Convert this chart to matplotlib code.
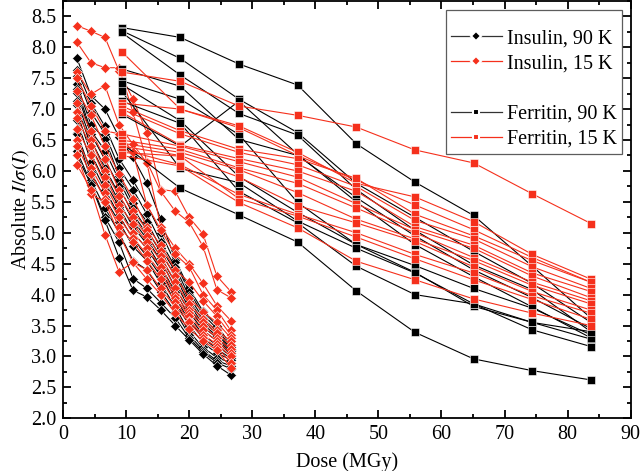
import matplotlib
matplotlib.use("Agg")
import numpy as np
import matplotlib.pyplot as plt
from matplotlib.lines import Line2D
from matplotlib.ticker import MultipleLocator

plt.rcParams["font.family"] = ["Liberation Serif", "DejaVu Serif"]
plt.rcParams["mathtext.fontset"] = "stix"

RED = "#f5301c"
BLACK = "#000000"

# 剂量 (MGy)
INSULIN_DOSE = [2.22, 4.44, 6.66, 8.88, 11.1, 13.3, 15.5, 17.8, 20.0, 22.2, 24.4, 26.6]
FERRITIN_DOSE = [9.3, 18.6, 27.9, 37.2, 46.5, 55.8, 65.1, 74.4, 83.7]

# ===== Insulin, 90 K =====
INSULIN_90K = [
    [7.82, 7.22, 7.00, 6.55, 6.22, 5.80, 5.22, 4.56, 4.10, 3.73, 3.50, 3.19],
    [7.63, 7.10, 6.72, 6.20, 5.85, 5.45, 5.00, 4.52, 4.05, 3.68, 3.45, 3.15],
    [7.53, 6.95, 6.60, 6.05, 5.70, 5.30, 4.85, 4.45, 3.97, 3.62, 3.40, 3.12],
    [7.40, 6.75, 6.52, 5.92, 5.48, 5.18, 4.75, 4.38, 3.90, 3.58, 3.36, 3.10],
    [7.33, 6.65, 6.33, 5.85, 5.40, 5.05, 4.68, 4.30, 3.85, 3.52, 3.33, 3.08],
    [7.26, 6.60, 6.18, 5.75, 5.30, 4.98, 4.60, 4.20, 3.78, 3.48, 3.30, 3.05],
    [7.13, 6.50, 6.05, 5.62, 5.20, 4.90, 4.55, 4.12, 3.72, 3.42, 3.25, 3.03],
    [7.06, 6.40, 5.95, 5.50, 5.10, 4.82, 4.45, 4.05, 3.65, 3.35, 3.18, 3.00],
    [6.95, 6.28, 5.82, 5.42, 5.00, 4.75, 4.40, 3.95, 3.58, 3.30, 3.12, 2.97],
    [6.82, 6.15, 5.70, 5.28, 4.90, 4.62, 4.30, 3.88, 3.50, 3.22, 3.05, 2.95],
    [6.62, 5.98, 5.55, 5.18, 4.78, 4.55, 4.18, 3.80, 3.40, 3.15, 2.98, 2.90],
    [6.59, 5.85, 5.40, 5.00, 4.55, 4.40, 4.05, 3.72, 3.35, 3.10, 2.93, 2.85],
    [6.32, 5.80, 5.25, 4.85, 4.26, 4.10, 3.87, 3.62, 3.30, 3.07, 2.90, 2.80],
    [6.25, 5.78, 5.20, 4.60, 4.07, 3.96, 3.75, 3.50, 3.27, 3.04, 2.85, 2.70],
]

# ===== Insulin, 15 K =====
INSULIN_15K = [
    [8.35, 8.26, 8.16, 7.62, 7.16, 6.62, 5.70, 5.67, 5.25, 4.98, 4.30, 4.05],
    [8.08, 7.75, 7.67, 7.67, 6.95, 6.15, 5.67, 5.35, 5.17, 4.78, 4.08, 3.95],
    [7.60, 7.24, 7.38, 6.75, 6.43, 6.13, 5.10, 4.75, 4.50, 4.18, 3.82, 3.58],
    [7.50, 7.05, 6.65, 6.60, 6.30, 5.45, 5.05, 4.65, 4.45, 4.00, 3.75, 3.42],
    [7.30, 6.90, 6.40, 5.95, 5.55, 5.10, 4.80, 4.40, 4.20, 3.90, 3.65, 3.35],
    [7.10, 6.65, 6.20, 5.70, 5.35, 5.05, 4.70, 4.30, 3.95, 3.72, 3.55, 3.30],
    [6.95, 6.50, 6.00, 5.60, 5.25, 4.95, 4.62, 4.20, 3.85, 3.60, 3.42, 3.25],
    [6.85, 6.40, 5.90, 5.45, 5.15, 4.85, 4.55, 4.10, 3.75, 3.55, 3.38, 3.18],
    [6.68, 6.25, 5.78, 5.35, 5.00, 4.75, 4.45, 4.00, 3.70, 3.50, 3.30, 3.12],
    [6.50, 6.05, 5.65, 5.25, 4.92, 4.65, 4.35, 3.95, 3.65, 3.42, 3.25, 3.05],
    [6.40, 5.95, 5.55, 5.10, 4.85, 4.55, 4.25, 3.88, 3.58, 3.35, 3.20, 3.00],
    [6.25, 5.62, 5.50, 4.98, 4.52, 4.40, 4.10, 3.80, 3.55, 3.30, 3.15, 2.90],
    [6.10, 5.70, 4.97, 4.37, 4.52, 4.25, 4.00, 3.70, 3.45, 3.25, 3.10, 2.82],
]

# ===== Ferritin, 90 K =====
FERRITIN_90K = [
    [8.32, 8.16, 7.73, 7.39, 6.44, 5.82, 5.28, 4.46, 3.62],
    [8.27, 7.82, 7.16, 6.62, 5.80, 5.25, 4.70, 4.18, 3.55],
    [8.24, 7.55, 6.93, 6.58, 5.70, 5.04, 4.48, 4.08, 3.40],
    [7.65, 7.37, 6.51, 6.25, 5.57, 4.95, 4.40, 3.95, 3.45],
    [7.46, 7.16, 6.59, 5.49, 4.81, 4.47, 4.10, 3.78, 3.35],
    [7.40, 6.81, 5.91, 5.33, 4.81, 4.36, 3.81, 3.55, 3.28],
    [7.29, 6.04, 5.81, 5.19, 4.75, 4.35, 3.85, 3.43, 3.16],
    [6.92, 6.40, 7.13, 6.27, 5.50, 4.81, 4.29, 3.80, 3.30],
    [7.13, 6.77, 5.67, 5.16, 4.46, 4.00, 3.85, 3.55, 3.40],
    [6.45, 5.72, 5.29, 4.85, 4.06, 3.39, 2.96, 2.77, 2.62],
]

# ===== Ferritin, 15 K =====
FERRITIN_15K = [
    [7.60, 7.45, 7.05, 6.90, 6.71, 6.34, 6.13, 5.63, 5.15],
    [7.93, 7.00, 6.70, 6.25, 5.85, 5.45, 5.05, 4.60, 4.20],
    [7.10, 7.00, 6.73, 6.30, 5.80, 5.58, 5.18, 4.65, 4.25],
    [7.05, 6.65, 6.35, 6.20, 5.88, 5.30, 4.95, 4.55, 4.20],
    [7.00, 6.60, 6.30, 6.10, 5.75, 5.20, 4.90, 4.45, 4.10],
    [6.95, 6.42, 6.20, 6.00, 5.67, 5.10, 4.80, 4.35, 4.05],
    [6.60, 6.40, 6.15, 5.90, 5.47, 5.05, 4.75, 4.30, 3.95],
    [6.50, 6.35, 6.05, 5.80, 5.40, 5.00, 4.60, 4.20, 3.90],
    [6.45, 6.30, 6.02, 5.65, 5.22, 4.90, 4.55, 4.15, 3.85],
    [6.40, 6.25, 5.90, 5.44, 5.16, 4.86, 4.45, 4.05, 3.75],
    [6.35, 6.10, 5.62, 5.30, 5.00, 4.65, 4.35, 3.98, 3.70],
    [6.30, 6.24, 5.55, 5.27, 4.93, 4.58, 4.24, 3.92, 3.60],
    [6.25, 6.08, 5.49, 5.08, 4.54, 4.24, 3.93, 3.70, 3.50],
]

LABELS = ["Insulin, 90 K", "Insulin, 15 K", "Ferritin, 90 K", "Ferritin, 15 K"]


def draw_group(ax, x, rows, color, marker, ms):
    for row in rows:
        ax.plot(x, row, color=color, lw=0.8, marker=marker, ms=ms,
                mfc=color, mec="white", mew=0.4)


fig = plt.figure(figsize=(6.4, 4.71), dpi=100)
ax = fig.add_axes([0.0984, 0.112, 0.887, 0.886])

draw_group(ax, INSULIN_DOSE, INSULIN_90K, BLACK, "D", 4.8)
draw_group(ax, INSULIN_DOSE, INSULIN_15K, RED, "D", 4.8)
draw_group(ax, FERRITIN_DOSE, FERRITIN_90K, BLACK, "s", 5.2)
draw_group(ax, FERRITIN_DOSE, FERRITIN_15K, RED, "s", 5.2)

ax.set_xlim(0, 90)
ax.set_ylim(2.0, 8.75)
ax.xaxis.set_major_locator(MultipleLocator(10))
ax.xaxis.set_minor_locator(MultipleLocator(5))
ax.yaxis.set_major_locator(MultipleLocator(0.5))
ax.yaxis.set_minor_locator(MultipleLocator(0.25))
ax.yaxis.set_major_formatter(plt.FuncFormatter(lambda v, p: f"{v:.1f}"))
ax.tick_params(which="both", direction="in", top=True, right=True,
               labelsize=14.5, width=1.3)
ax.tick_params(which="major", length=5.5)
ax.tick_params(which="minor", length=3.2)
ax.tick_params(axis="x", pad=5)
ax.tick_params(axis="y", pad=5)
for s in ax.spines.values():
    s.set_linewidth(1.3)

ax.set_xlabel("Dose (MGy)", fontsize=14.5, labelpad=6)
ax.set_ylabel(r"Absolute $I/\sigma(I)$", fontsize=14.5, labelpad=0)

# 图例：中间空一行
handles = [
    Line2D([], [], color="#333333", lw=0.9, marker="D", ms=4.6, mfc=BLACK, mec="white", mew=1.5),
    Line2D([], [], color=RED, lw=0.9, marker="D", ms=4.6, mfc=RED, mec="white", mew=1.5),
    Line2D([], [], linestyle="none"),
    Line2D([], [], color="#333333", lw=0.9, marker="s", ms=5.0, mfc=BLACK, mec="white", mew=1.5),
    Line2D([], [], color=RED, lw=0.9, marker="s", ms=5.0, mfc=RED, mec="white", mew=1.5),
]
labels = [LABELS[0], LABELS[1], " ", LABELS[2], LABELS[3]]
leg = ax.legend(handles, labels, loc="upper right", fontsize=14.5, frameon=True,
                fancybox=False, edgecolor="#333333", handlelength=2.5,
                handletextpad=0.25, borderpad=0.25, labelspacing=0.3,
                borderaxespad=0.45, numpoints=1, title=" ", title_fontsize=6)
leg.get_frame().set_linewidth(0.9)

fig.savefig("out.png", dpi=100)
